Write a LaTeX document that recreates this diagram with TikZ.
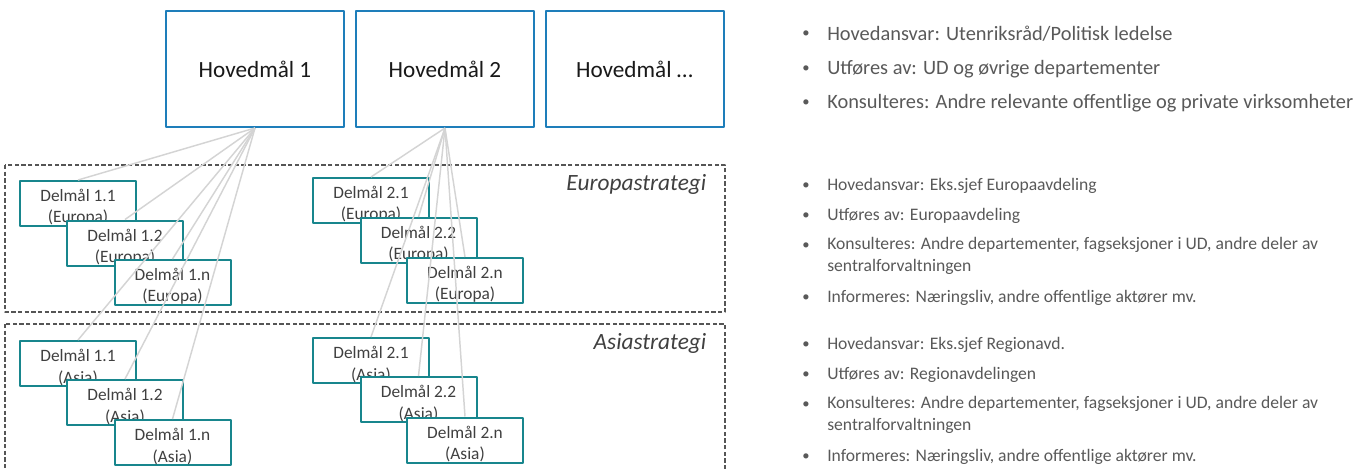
\documentclass[tikz,border=0pt]{standalone}
\usepackage{fontspec}
\setmainfont{Carlito}
\definecolor{hovedblue}{RGB}{30,126,186}
\definecolor{delteal}{RGB}{24,134,141}
\definecolor{linegray}{RGB}{212,212,212}
\definecolor{textgray}{RGB}{64,64,64}
\definecolor{bulletgray}{RGB}{89,89,89}
\definecolor{dashgray}{RGB}{85,85,85}
\tikzset{
  hoved/.style={draw=hovedblue, line width=1.5pt, fill=white, inner sep=0pt,
    minimum width=133.5pt, minimum height=87pt, text=black!90,
    font=\fontsize{17.4}{20}\selectfont},
  delmaal/.style={draw=delteal, line width=1.5pt, fill=white, inner sep=0pt,
    minimum width=87pt, minimum height=33.75pt},
  deltekst/.style={align=center, text=textgray, inner sep=0pt,
    font=\fontsize{13}{16}\selectfont},
  strategi/.style={dashgray, line width=1.2pt, dash pattern=on 3.2pt off 1.8pt},
  strattekst/.style={anchor=east, text=textgray, font=\fontsize{17.5}{20}\selectfont\itshape},
  link/.style={linegray, line width=1.1pt},
  punkt/.style={anchor=center, text=bulletgray, inner sep=0pt, font=\fontsize{11}{12}\selectfont},
  punkttekst/.style={anchor=west, text=bulletgray, inner sep=0pt, align=left},
}
\begin{document}
\begin{tikzpicture}[x=0.75pt, y=-0.75pt, line join=round]
    \clip (0,0) rectangle (1368,468);
    %\draw[color=gray!50,dashed] (0,0) grid[step=50] (1368,468);
    % hovedmaal
    \node[hoved] (h1) at (255,69) {Hovedmål 1};
    \node[hoved] (h2) at (445,69) {Hovedmål 2};
    \node[hoved] (h3) at (634.5,69) {Hovedmål \dots};
    % strategirammer
    \draw[strategi] (5,165) rectangle (725,312);
    \draw[strategi] (5,324) rectangle (725,490);
    \node[strattekst] (se) at (711,184) {Europastrategi};
    \node[strattekst] (sa) at (711,343) {Asiastrategi};
    % delmaal Europa
    \foreach \m/\i/\x/\y in {1/1/78/203.5, 1/2/125/243, 1/n/172.5/282.5,
                             2/1/371/200.5, 2/2/418.5/240.5, 2/n/465/280.5} {
      \node[delmaal] (d\m\i e) at (\x,\y) {};
      \node[deltekst] at ([yshift=-3pt]d\m\i e.center) {Delmål \m.\i\\(Europa)};
    }
    % delmaal Asia
    \foreach \m/\i/\x/\y in {1/1/78/363.5, 1/2/125/402.5, 1/n/172.5/442.5,
                             2/1/371/360.5, 2/2/418.5/399.5, 2/n/465/440} {
      \node[delmaal] (d\m\i a) at (\x,\y) {};
      \node[deltekst] at ([yshift=-3pt]d\m\i a.center) {Delmål \m.\i\\(Asia)};
    }
    % koblinger
    \foreach \m in {1,2}
      \foreach \n in {1e,2e,ne,1a,2a,na}
        \draw[link] (h\m.south) -- (d\m\n.north);
    % ansvar, hovedmaal
    \begin{scope}[font=\fontsize{15.3}{19}\selectfont]
      \node[punkt] (p1) at (806,34) {•};
      \node[punkttekst] (t1) at (827,34) {Hovedansvar: Utenriksråd/Politisk ledelse};
      \node[punkt] (p2) at (806,69) {•};
      \node[punkttekst] (t2) at (827,69) {Utføres av: UD og øvrige departementer};
      \node[punkt] (p3) at (806,103) {•};
      \node[punkttekst] (t3) at (827,103) {Konsulteres: Andre relevante offentlige og private virksomheter};
    \end{scope}
    % ansvar, Europa og Asia
    \begin{scope}[font=\fontsize{13.2}{16.5}\selectfont]
      \foreach \s/\y/\hoved/\utf in {e/0/Europaavdeling/Europaavdeling, a/159/Regionavd./Regionavdelingen} {
        \node[punkt] (p\s1) at (806,186+\y) {•};
        \node[punkttekst] (t\s1) at (827,186+\y) {Hovedansvar: Eks.sjef \hoved};
        \node[punkt] (p\s2) at (806,216+\y) {•};
        \node[punkttekst] (t\s2) at (827,216+\y) {Utføres av: \utf};
        \node[punkt] (p\s3) at (806,246+\y) {•};
        \node[punkttekst, anchor=north west] (t\s3) at (827,237+\y)
          {Konsulteres: Andre departementer, fagseksjoner i UD, andre deler av\\sentralforvaltningen};
        \node[punkt] (p\s4) at (806,298+\y) {•};
        \node[punkttekst] (t\s4) at (827,298+\y) {Informeres: Næringsliv, andre offentlige aktører mv.};
      }
    \end{scope}
\end{tikzpicture}
\end{document}
